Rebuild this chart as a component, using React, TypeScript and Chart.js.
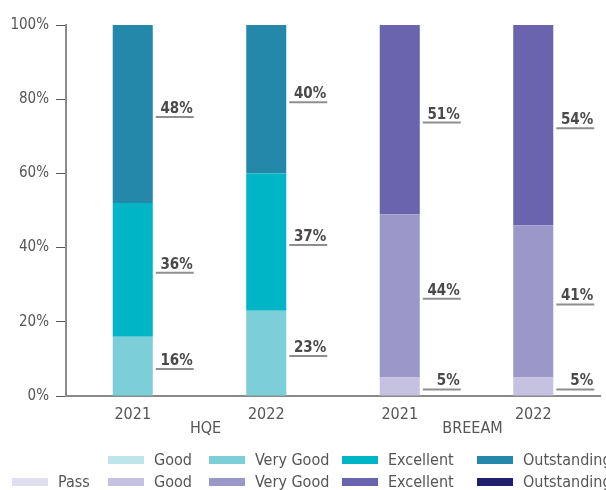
import React, { useEffect, useRef } from "react";
import { Chart, registerables } from "chart.js";

Chart.register(...registerables);

const categories = ["2021", "2022", "2021", "2022"];
const groups = ["HQE", "BREEAM"];

const hqeGood: (number | null)[] = [null, null, null, null];
const hqeVeryGood: (number | null)[] = [16, 23, null, null];
const hqeExcellent: (number | null)[] = [36, 37, null, null];
const hqeOutstanding: (number | null)[] = [48, 40, null, null];

const breeamPass: (number | null)[] = [null, null, null, null];
const breeamGood: (number | null)[] = [null, null, 5, 5];
const breeamVeryGood: (number | null)[] = [null, null, 44, 41];
const breeamExcellent: (number | null)[] = [null, null, 51, 54];
const breeamOutstanding: (number | null)[] = [null, null, null, null];

const FONT = "'Liberation Sans Narrow', 'DejaVu Sans Condensed', 'Open Sans', sans-serif";
const TEXT = "#555555";

const datasets = [
  { label: "Good", group: 0, data: hqeGood, backgroundColor: "#bde5ea" },
  { label: "Very Good", group: 0, data: hqeVeryGood, backgroundColor: "#7ccfd8" },
  { label: "Excellent", group: 0, data: hqeExcellent, backgroundColor: "#00b6c6" },
  { label: "Outstanding", group: 0, data: hqeOutstanding, backgroundColor: "#2388aa" },
  { label: "Pass", group: 1, data: breeamPass, backgroundColor: "#e0dff0" },
  { label: "Good", group: 1, data: breeamGood, backgroundColor: "#c5c2e1" },
  { label: "Very Good", group: 1, data: breeamVeryGood, backgroundColor: "#9b97c9" },
  { label: "Excellent", group: 1, data: breeamExcellent, backgroundColor: "#6a63ae" },
  { label: "Outstanding", group: 1, data: breeamOutstanding, backgroundColor: "#1f1f6e" },
];

const valueLabels = {
  id: "valueLabels",
  afterDatasetsDraw(chart: any) {
    const ctx = chart.ctx;
    ctx.save();
    chart.data.datasets.forEach((ds: any, i: number) => {
      const meta = chart.getDatasetMeta(i);
      meta.data.forEach((bar: any, j: number) => {
        const v = ds.data[j];
        if (!v) return;
        const p = bar.getProps(["x", "y", "base", "width"], true);
        const mid = (p.y + p.base) / 2 + 3;
        const right = p.x + p.width / 2;
        ctx.strokeStyle = "#8e8e8e";
        ctx.lineWidth = 2;
        ctx.beginPath();
        ctx.moveTo(right + 3, mid);
        ctx.lineTo(right + 41, mid);
        ctx.stroke();
        ctx.fillStyle = "#4a4a4a";
        ctx.font = `bold 15px ${FONT}`;
        ctx.textAlign = "right";
        ctx.textBaseline = "alphabetic";
        ctx.fillText(`${v}%`, right + 40, mid - 4);
      });
    });
    ctx.restore();
  },
};

const groupAndLegend = {
  id: "groupAndLegend",
  afterDraw(chart: any) {
    const ctx = chart.ctx;
    const xs = chart.scales.x;
    ctx.save();
    ctx.fillStyle = TEXT;
    ctx.font = `16px ${FONT}`;
    ctx.textAlign = "center";
    ctx.textBaseline = "middle";
    groups.forEach((g, gi) => {
      const cx = (xs.getPixelForValue(gi * 2) + xs.getPixelForValue(gi * 2 + 1)) / 2 + 6;
      ctx.fillText(g, cx, 429);
    });
    // legend grid
    const cols = [12, 108, 209, 342, 477];
    const rows = [460, 482];
    const rowItems = [
      chart.data.datasets.filter((d: any) => d.group === 0),
      chart.data.datasets.filter((d: any) => d.group === 1),
    ];
    ctx.textAlign = "left";
    rowItems.forEach((items: any[], r: number) => {
      const start = cols.length - items.length;
      items.forEach((d: any, k: number) => {
        const bx = cols[start + k];
        const y = rows[r];
        ctx.fillStyle = d.backgroundColor;
        ctx.fillRect(bx, y - 4, 36, 8);
        ctx.fillStyle = TEXT;
        ctx.fillText(d.label, bx + 46, y + 1);
      });
    });
    ctx.restore();
  },
};

export default function App() {
  const ref = useRef<HTMLCanvasElement | null>(null);
  useEffect(() => {
    if (!ref.current) return;
    const chart = new Chart(ref.current, {
      type: "bar",
      data: {
        labels: categories,
        datasets: datasets.map((d) => ({
          label: d.label,
          group: d.group,
          data: d.data,
          backgroundColor: d.backgroundColor,
          borderWidth: 0,
          categoryPercentage: 1,
          barPercentage: 0.3,
        })) as any,
      },
      options: {
        animation: false,
        responsive: false,
        maintainAspectRatio: false,
        layout: { padding: { top: 25, right: 6, bottom: 70, left: 0 } },
        plugins: { legend: { display: false }, tooltip: { enabled: false } },
        scales: {
          x: {
            stacked: true,
            grid: { display: false, drawTicks: false },
            border: { color: "#8a8a8a", width: 2 },
            ticks: { color: TEXT, font: { family: FONT, size: 16 }, padding: 9 },
            afterFit: (s: any) => {
              s.height = 24;
            },
          },
          y: {
            stacked: true,
            min: 0,
            max: 100,
            ticks: {
              stepSize: 20,
              color: TEXT,
              font: { family: FONT, size: 15 },
              padding: 7,
              callback: (v: any) => `${v}%`,
            },
            grid: {
              drawOnChartArea: false,
              drawTicks: true,
              tickLength: 10,
              color: "#555555",
              tickWidth: 1,
            },
            border: { color: "#8a8a8a", width: 2 },
            afterFit: (s: any) => {
              s.width = 66;
            },
          },
        },
      },
      plugins: [valueLabels, groupAndLegend],
    });
    return () => chart.destroy();
  }, []);
  return (
    <div style={{ position: "absolute", left: 0, top: 0, width: 606, height: 490, background: "#fff" }}>
      <canvas ref={ref} width={606} height={490} style={{ display: "block" }} />
    </div>
  );
}
